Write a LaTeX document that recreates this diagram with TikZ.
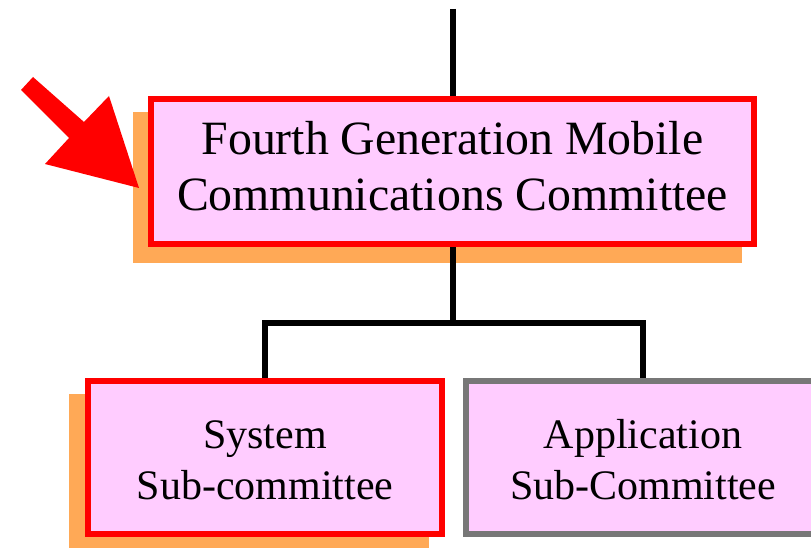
\documentclass[tikz,border=0pt]{standalone}
\usepackage{fontspec}
\setmainfont{Liberation Serif}
\usetikzlibrary{calc,backgrounds}

\definecolor{boxpink}{RGB}{255,204,255}
\definecolor{shadeorange}{RGB}{255,169,86}
\definecolor{framegray}{RGB}{119,119,119}

% two centred lines, nudged vertically without changing the box extents
\newcommand{\twolines}[3]{\raisebox{#1}[\height][\depth]{\begin{tabular}{@{}c@{}}#2\\#3\end{tabular}}}

\tikzset{
  committee/.style={draw=red, fill=boxpink, line width=6pt, rectangle,
    inner sep=0pt, text=black},
  topbox/.style={committee, minimum width=603pt, minimum height=145pt,
    font=\fontsize{47.8}{56}\selectfont},
  subbox/.style={committee, minimum width=354pt, minimum height=153pt,
    font=\fontsize{42}{51}\selectfont},
  graybox/.style={subbox, draw=framegray},
  link/.style={line width=6pt, line cap=butt, line join=miter},
  shade/.style={fill=shadeorange},
}

\begin{document}
\begin{tikzpicture}[x=1pt, y=-1pt]
  \useasboundingbox (0,0) rectangle (811,548);
  \clip (0,0) rectangle (811,548);

  % committee boxes
  \node[topbox] (top) at (452.5,171.5)
    {\twolines{0pt}{Fourth Generation Mobile}{Communications Committee}};
  \node[subbox] (sys) at (265,457.5)
    {\twolines{-6pt}{System}{Sub-committee}};
  \node[graybox] (app) at (643,457.5)
    {\twolines{-6pt}{Application}{Sub-Committee}};

  % offset orange shadows behind the red-framed boxes
  \begin{scope}[on background layer]
    \fill[shade] ($(top.north west)+(-15,16)$) rectangle ($(top.south east)+(-15,16)$);
    \fill[shade] ($(sys.north west)+(-16,16)$) rectangle ($(sys.south east)+(-16,16)$);
  \end{scope}

  % tree connectors
  \coordinate (above) at (452.5,9);
  \draw[link] (above) -- (top.north);
  \draw[link] (top.south) -- ++(0,76) coordinate (split);
  \draw[link] (sys.north) |- (split) -| (app.north);

  % big red pointer arrow
  \fill[red] (33,77) -- (84,122) -- (109,96) -- (139,188) -- (45,164)
             -- (69,138) -- (21,90) -- cycle;
\end{tikzpicture}
\end{document}
